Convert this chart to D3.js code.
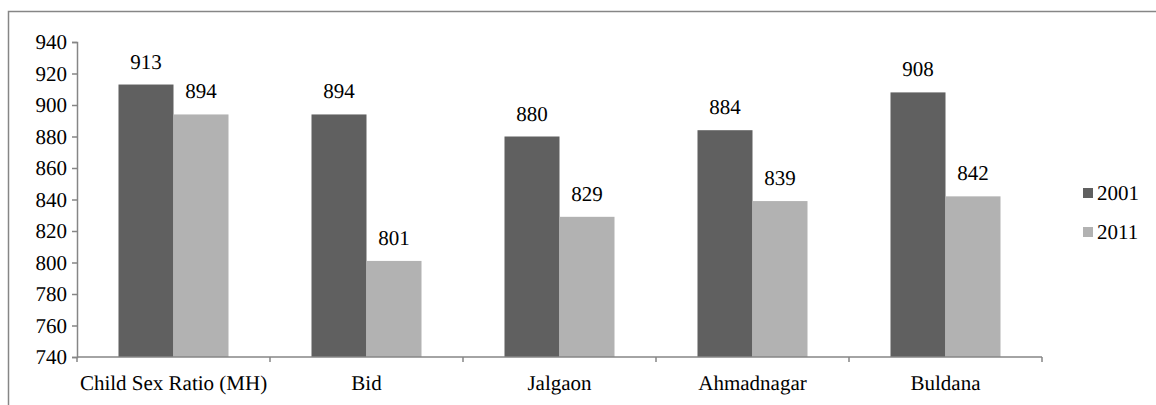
<!DOCTYPE html>
<html>
<head>
<meta charset="utf-8">
<script src="https://cdn.jsdelivr.net/npm/d3@7"></script>
<style>
  body { margin: 0; background: #fff; }
  svg text { text-rendering: geometricPrecision; }
</style>
</head>
<body>
<div id="chart"></div>
<script>
var districts = ["Child Sex Ratio (MH)", "Bid", "Jalgaon", "Ahmadnagar", "Buldana"]
var years = ["2001", "2011"]
var ratio2001 = [913, 894, 880, 884, 908]
var ratio2011 = [894, 801, 829, 839, 842]
var yTicks = [740, 760, 780, 800, 820, 840, 860, 880, 900, 920, 940]

var serif = "Liberation Serif"

var color = d3.scaleOrdinal()
  .domain(years)
  .range(["#606060", "#b2b2b2"])

var data = districts.map((d, i) => ({ district: d, values: [
  { year: "2001", v: ratio2001[i] },
  { year: "2011", v: ratio2011[i] }
] }))

var svg = d3.select("#chart").append("svg")
  .attr("width", 1156)
  .attr("height", 405)
  .attr("font-family", serif)

// outer frame (only top and left visible in crop)
svg.append("rect")
  .attr("x", 8.5).attr("y", 11.5)
  .attr("width", 1200).attr("height", 500)
  .attr("fill", "none")
  .attr("stroke", "#868686")
  .attr("stroke-width", 1.5)

var x = d3.scaleBand()
  .domain(districts)
  .range([77, 1042])
  .paddingInner(0.43)
  .paddingOuter(0.215)

var x1 = d3.scaleBand()
  .domain(years)
  .range([0, x.bandwidth()])

var y = d3.scaleLinear()
  .domain([740, 940])
  .range([357, 42])

// bars
var groups = svg.selectAll("g.cat")
  .data(data)
  .enter()
  .append("g")
  .attr("class", "cat")
  .attr("transform", d => "translate(" + x(d.district) + ",0)")

groups.selectAll("rect")
  .data(d => d.values)
  .enter()
  .append("rect")
  .attr("x", d => x1(d.year))
  .attr("y", d => y(d.v))
  .attr("width", x1.bandwidth())
  .attr("height", d => y(740) - y(d.v))
  .attr("fill", d => color(d.year))

groups.selectAll("text")
  .data(d => d.values)
  .enter()
  .append("text")
  .text(d => d.v)
  .attr("x", d => x1(d.year) + x1.bandwidth() / 2)
  .attr("y", d => y(d.v) - 16)
  .attr("text-anchor", "middle")
  .attr("font-family", serif)
  .attr("font-size", 21)

// y axis
var yAxis = svg.append("g")
  .attr("transform", "translate(77,0)")
  .call(d3.axisLeft(y).tickValues(yTicks).tickSize(5).tickPadding(5))
yAxis.attr("font-family", serif)
yAxis.select(".domain").attr("stroke", "#868686").attr("stroke-width", 1.5)
yAxis.selectAll(".tick line").attr("stroke", "#868686").attr("stroke-width", 1.5)
yAxis.selectAll(".tick text")
  .attr("font-size", 21)
  .attr("font-family", serif)
  .attr("fill", "#000")

// x axis with ticks on category boundaries
var step = x.step()
var bounds = d3.range(districts.length + 1).map(i => 77 + i * step)
var xAxis = svg.append("g")
xAxis.append("line")
  .attr("x1", 77).attr("x2", 1042)
  .attr("y1", y(740)).attr("y2", y(740))
  .attr("stroke", "#868686").attr("stroke-width", 1.5)
xAxis.selectAll("line.tk")
  .data(bounds)
  .enter()
  .append("line")
  .attr("class", "tk")
  .attr("x1", d => d).attr("x2", d => d)
  .attr("y1", y(740)).attr("y2", y(740) + 5)
  .attr("stroke", "#868686").attr("stroke-width", 1.5)
xAxis.selectAll("text")
  .data(districts)
  .enter()
  .append("text")
  .text(d => d)
  .attr("x", d => x(d) + x.bandwidth() / 2)
  .attr("y", 390)
  .attr("text-anchor", "middle")
  .attr("font-family", serif)
  .attr("font-size", 21)

// legend
var legend = svg.selectAll("g.leg")
  .data(years)
  .enter()
  .append("g")
  .attr("class", "leg")
  .attr("transform", (d, i) => "translate(1083," + (193 + i * 39) + ")")
legend.append("rect")
  .attr("x", 0).attr("y", -5)
  .attr("width", 10).attr("height", 10)
  .attr("fill", d => color(d))
legend.append("text")
  .text(d => d)
  .attr("x", 14)
  .attr("y", 7)
  .attr("font-family", serif)
  .attr("font-size", 21)
</script>
</body>
</html>
